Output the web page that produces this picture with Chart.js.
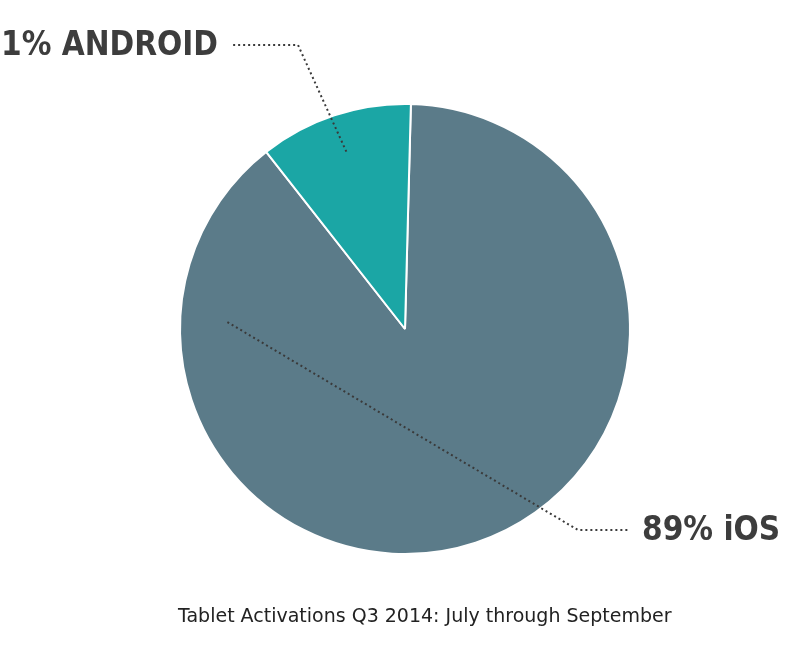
<!DOCTYPE html>
<html lang="en">
<head>
<meta charset="UTF-8">
<title>Tablet Activations</title>
<script src="https://cdn.jsdelivr.net/npm/chart.js"></script>
<style>
  body { margin: 0; background: #fff; }
  #wrap { position: relative; width: 800px; height: 653px; }
</style>
</head>
<body>
<div id="wrap"><canvas id="pie"></canvas></div>
<script>
const platforms = ['iOS', 'ANDROID'];
const shares = [89, 11];
const sliceColors = ['#5b7b89', '#1ba6a5'];
const caption = 'Tablet Activations Q3 2014: July through September';

// leader lines + labels, hand placed like the original
const callouts = {
  plugin: undefined,
  id: 'callouts',
  afterDraw(chart) {
    const ctx = chart.ctx;
    const arcs = chart.getDatasetMeta(0).data;
    const lines = [
      { i: 1, frac: 0.5, r: 0.83, elbow: [298, 45], end: [232, 45], text: shares[1] + '% ' + platforms[1], tx: 218, align: 'right' },
      { i: 0, frac: 0.155, r: 0.79, elbow: [578, 530], end: [628, 530], text: shares[0] + '% ' + platforms[0], tx: 642, align: 'left' }
    ];
    ctx.save();
    lines.forEach(l => {
      const a = arcs[l.i];
      const ang = a.startAngle + (a.endAngle - a.startAngle) * (l.i === 0 ? 1 - l.frac : l.frac);
      const px = a.x + Math.cos(ang) * a.outerRadius * l.r;
      const py = a.y + Math.sin(ang) * a.outerRadius * l.r;
      ctx.strokeStyle = '#3a3a3a';
      ctx.lineWidth = 2;
      ctx.setLineDash([2, 3]);
      ctx.beginPath();
      ctx.moveTo(px, py);
      ctx.lineTo(l.elbow[0], l.elbow[1]);
      ctx.lineTo(l.end[0], l.end[1]);
      ctx.stroke();
      ctx.setLineDash([]);
      ctx.fillStyle = '#3d3d3d';
      ctx.font = 'bold 33px "DejaVu Sans Condensed", "Liberation Sans Narrow", sans-serif';
      ctx.textAlign = l.align;
      ctx.textBaseline = 'middle';
      ctx.fillText(l.text, l.tx, l.end[1] + 1);
    });
    ctx.fillStyle = '#222';
    ctx.font = '19px "DejaVu Sans", sans-serif';
    ctx.textAlign = 'left';
    ctx.textBaseline = 'middle';
    ctx.fillText(caption, 178, 617);
    ctx.restore();
  }
};

new Chart(document.getElementById('pie'), {
  type: 'pie',
  data: {
    labels: platforms,
    datasets: [{
      data: shares,
      backgroundColor: sliceColors,
      borderColor: '#ffffff',
      borderWidth: 2
    }]
  },
  options: {
    responsive: true,
    maintainAspectRatio: false,
    animation: false,
    rotation: 1.5,
    layout: { padding: { top: 103, bottom: 98, left: 179, right: 169 } },
    plugins: { legend: { display: false }, tooltip: { enabled: false } }
  },
  plugins: [callouts]
});
</script>
</body>
</html>
